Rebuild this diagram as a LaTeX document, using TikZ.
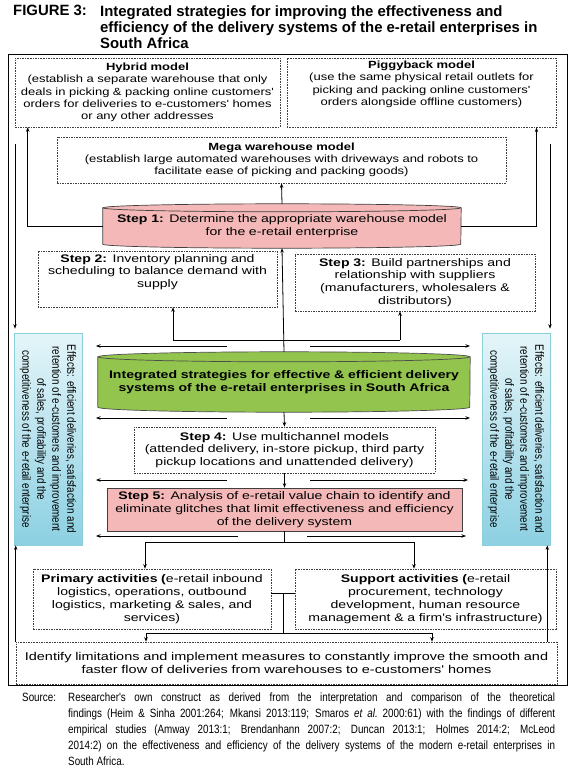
\documentclass[tikz,border=0pt]{standalone}
\usepackage{fontspec}
\usepackage{graphicx}
\setmainfont{Liberation Sans}
\newfontfamily\figfont[FakeStretch=1.25]{Liberation Sans}
\newfontfamily\stepfont[FakeStretch=1.28]{Liberation Sans}
\newfontfamily\sidefont[FakeStretch=0.82]{Liberation Sans}
\newfontfamily\srcfont[FakeStretch=0.82]{Liberation Sans}
\usetikzlibrary{calc,fit,arrows.meta,backgrounds}
\definecolor{steppink}{RGB}{244,184,184}
\definecolor{stratgreen}{RGB}{146,196,78}
\definecolor{efftop}{RGB}{228,245,249}
\definecolor{effcyan}{RGB}{140,208,226}
\definecolor{effline}{RGB}{140,206,218}
\tikzset{dashbox/.style={draw=black!75,dash pattern=on 1.6pt off 1pt,line
width=0.6pt,align=center,inner sep=3pt},modeltxt/.style={font=\figfont\fontsize{10.4}{12.2}\selectfont},
steptxt/.style={font=\stepfont\fontsize{11}{12.8}\selectfont},effbox/.style={draw=effline,line
width=0.7pt,top color=efftop,bottom color=effcyan,minimum width=68pt,minimum
height=212pt,inner sep=0pt,font=\sidefont\fontsize{12}{15}\selectfont}}
\tikzstyle{arrow}     = [line width=0.8pt,-{Stealth[length=4.5pt,width=3.5pt]}]
\tikzstyle{wire}      = [line width=0.8pt]
\newcommand{\drum}[4]{%
	\path[#4] ($(#1.north west)+(0,#3)$) -- ($(#1.south west)+(0,-#3)$)
		arc[start angle=180,end angle=360,x radius=#2pt,y radius=#3pt]
		-- ($(#1.north east)+(0,#3)$)
		arc[start angle=0,end angle=180,x radius=#2pt,y radius=#3pt] -- cycle;
	\draw[#4,fill=none] ($(#1.north west)+(0,#3)$)
		arc[start angle=180,end angle=360,x radius=#2pt,y radius=#3pt];
}
\newcommand{\effecttext}{\rotatebox{-90}{\parbox{204pt}{\centering
	Effects: efficient deliveries, satisfaction and\\
	retention of e-customers and improvement\\
	of sales, profitability and the\\
	competitiveness of the e-retail enterprise}}}

\begin{document}
\begin{tikzpicture}[x=1pt,y=-1pt]
		\useasboundingbox (0,0) rectangle (576,772);
		\node[anchor=north west,inner sep=0pt,font=\bfseries\fontsize{14.9}{16}\selectfont] (figno) at (13,5) {FIGURE 3:};
		\node[anchor=north west,inner sep=0pt,align=left,font=\bfseries\fontsize{14.9}{16}\selectfont] (title) at (100,5)
			{Integrated strategies for improving the effectiveness and\\
			efficiency of the delivery systems of the e-retail enterprises in\\
			South Africa};
		\draw[line width=0.9pt] (8,54) rectangle (567,685);

		\node[dashbox,modeltxt,text width=259pt,minimum height=69pt] (hybrid) at (147.5,92.5)
			{\textbf{Hybrid model}\\
			(establish a separate warehouse that only\\
			deals in picking \& packing online customers'\\
			orders for deliveries to e-customers' homes\\
			or any other addresses};
		\node[modeltxt,align=center,text width=263pt,inner sep=3pt,anchor=north] (piggytxt) at (421.5,58)
			{\textbf{Piggyback model}\\
			(use the same physical retail outlets for\\
			picking and packing online customers'\\
			orders alongside offline customers)};
		\coordinate (piggyend) at (piggytxt.north east |- hybrid.south);
		\node[dashbox,inner sep=0pt,fit=(piggytxt.north west)(piggyend)] (piggy) {};
		\node[dashbox,modeltxt,text width=443pt,minimum height=46pt] (mega) at (281.5,160)
			{\textbf{Mega warehouse model}\\
			(establish large automated warehouses with driveways and robots to\\
			facilitate ease of picking and packing goods)};

		\node[steptxt,align=center,text width=350pt,minimum height=44pt,inner sep=4pt] (step1) at (282,226)
			{\textbf{Step 1:} Determine the appropriate warehouse model\\
			for the e-retail enterprise};
		\node[steptxt,align=center,text width=233pt,inner sep=3pt,anchor=north] (step2txt) at (157.5,251)
			{\textbf{Step 2:} Inventory planning and\\
			scheduling to balance demand with\\
			supply};
		\coordinate (step2end) at ($(step2txt.north east)+(0,56)$);
		\node[dashbox,inner sep=0pt,fit=(step2txt.north west)(step2end)] (step2) {};
		\node[dashbox,steptxt,text width=234pt,minimum height=57pt] (step3) at (415,282.5)
			{\textbf{Step 3:} Build partnerships and\\
			relationship with suppliers\\
			(manufacturers, wholesalers \&\\
			distributors)};

		\node[effbox] (effl) at (48,439) {\effecttext};
		\node[effbox] (effr) at (516,439) {\effecttext};

		\node[steptxt,align=center,text width=364pt,minimum height=60pt,inner sep=4pt] (strategy) at (284,382)
			{\textbf{Integrated strategies for effective \& efficient delivery\\
			systems of the e-retail enterprises in South Africa}};
		\node[dashbox,steptxt,text width=295pt,minimum height=46pt] (step4) at (284.5,450)
			{\textbf{Step 4:} Use multichannel models\\
			(attended delivery, in-store pickup, third party\\
			pickup locations and unattended delivery)};
		\node[draw=black!75,line width=0.7pt,fill=steppink,steptxt,align=center,text width=349pt,minimum height=43pt,inner sep=3pt] (step5) at (284.5,509.5)
			{\textbf{Step 5:} Analysis of e-retail value chain to identify and\\
			eliminate glitches that limit effectiveness and efficiency\\
			of the delivery system};

		\node[dashbox,steptxt,text width=232pt,minimum height=60pt] (primary) at (152,599)
			{\textbf{Primary activities (}e-retail inbound\\
			logistics, operations, outbound\\
			logistics, marketing \& sales, and\\
			services)};
		\node[dashbox,steptxt,text width=255pt,minimum height=60pt] (support) at (425.5,599)
			{\textbf{Support activities (}e-retail\\
			procurement, technology\\
			development, human resource\\
			management \& a firm's infrastructure)};
		\node[dashbox,steptxt,font=\stepfont\fontsize{11.3}{12.8}\selectfont,text width=535pt,minimum height=42pt] (improve) at (286.5,663)
			{Identify limitations and implement measures to constantly improve the smooth and\\
			faster flow of deliveries from warehouses to e-customers' homes};

		\begin{scope}[on background layer]
			\drum{step1}{179}{4}{draw=black!75,line width=0.7pt,fill=steppink}
			\drum{strategy}{186}{5}{draw=black!70,line width=0.7pt,fill=stratgreen}
		\end{scope}

		\draw[arrow] (step1.north) -- (mega.south);
		\draw[arrow,line width=1pt] (step1.west) -| ($(hybrid.south west)+(13,0)$);
		\draw[arrow,line width=1pt] (step1.east) -| ($(piggy.south east)+(-20,0)$);
		\draw[arrow] (strategy.north) -- (step1.south);
		\coordinate (forkl) at (173,340);
		\coordinate (forkr) at (400,340);
		\draw[wire] (forkl) -- (forkr);
		\draw[arrow] (forkl) -- (forkl |- step2.south);
		\draw[arrow] (forkr) -- (forkr |- step3.south);

		\coordinate (effltop) at (15,144);
		\coordinate (effrtop) at (550,144);
		\draw[arrow] (effltop) -- ($(effltop |- effl.north)+(0,-4)$);
		\draw[arrow] (effrtop) -- ($(effrtop |- effr.north)+(0,-4)$);
		\foreach \n/\y/\a/\b/\c in {1/346/227/310/470,2/418/227/310/470,3/480/227/310/468,4/536/238/307/466}{
			\coordinate (sl\n) at (\a,\y);
			\coordinate (sle\n) at (96,\y);
			\coordinate (sr\n) at (\b,\y);
			\coordinate (sre\n) at (\c,\y);
			\draw[arrow] (sl\n) -- (sle\n);
			\draw[arrow] (sr\n) -- (sre\n);
		}

		\draw[arrow] (strategy.south) -- (step4.north);
		\draw[arrow] (step4.south) -- (step5.north);
		\coordinate (actl) at (145,542);
		\coordinate (actr) at (414,542);
		\draw[wire] (step5.south) -- (step5.south |- actl);
		\draw[wire] (actl) -- (actr);
		\draw[arrow] (actl) -- (actl |- primary.north);
		\draw[arrow] (actr) -- (actr |- support.north);
		\coordinate (link) at (283,593);
		\coordinate (impl) at (146,633);
		\coordinate (impr) at (432,633);
		\draw[wire] (link -| primary.east) -- (link -| support.west);
		\draw[wire] (link) -- (link |- impl);
		\draw[wire] (impl) -- (impr);
		\draw[arrow] (impl) -- (impl |- improve.north);
		\draw[arrow] (impr) -- (impr |- improve.north);
		\coordinate (efflbot) at (improve.north west);
		\coordinate (effrbot) at ($(improve.north east)+(-10,0)$);
		\draw[arrow] (efflbot) -- (efflbot |- effl.south);
		\draw[arrow] (effrbot) -- (effrbot |- effr.south);

		\node[anchor=north west,inner sep=0pt,font=\srcfont\fontsize{12}{16}\selectfont] (srclabel) at (22,693) {Source:};
		\node[anchor=north west,inner sep=0pt,text width=487pt,align=justify,font=\srcfont\fontsize{12}{16}\selectfont] (srctext) at (68,693)
			{Researcher's own construct as derived from the interpretation and comparison of the theoretical\linebreak
			findings (Heim \& Sinha 2001:264; Mkansi 2013:119; Smaros \textit{et al.}\ 2000:61) with the findings of different\linebreak
			empirical studies (Amway 2013:1; Brendanhann 2007:2; Duncan 2013:1; Holmes 2014:2; McLeod\linebreak
			2014:2) on the effectiveness and efficiency of the delivery systems of the modern e-retail enterprises in\linebreak
			South Africa.};
	\end{tikzpicture}
\end{document}
